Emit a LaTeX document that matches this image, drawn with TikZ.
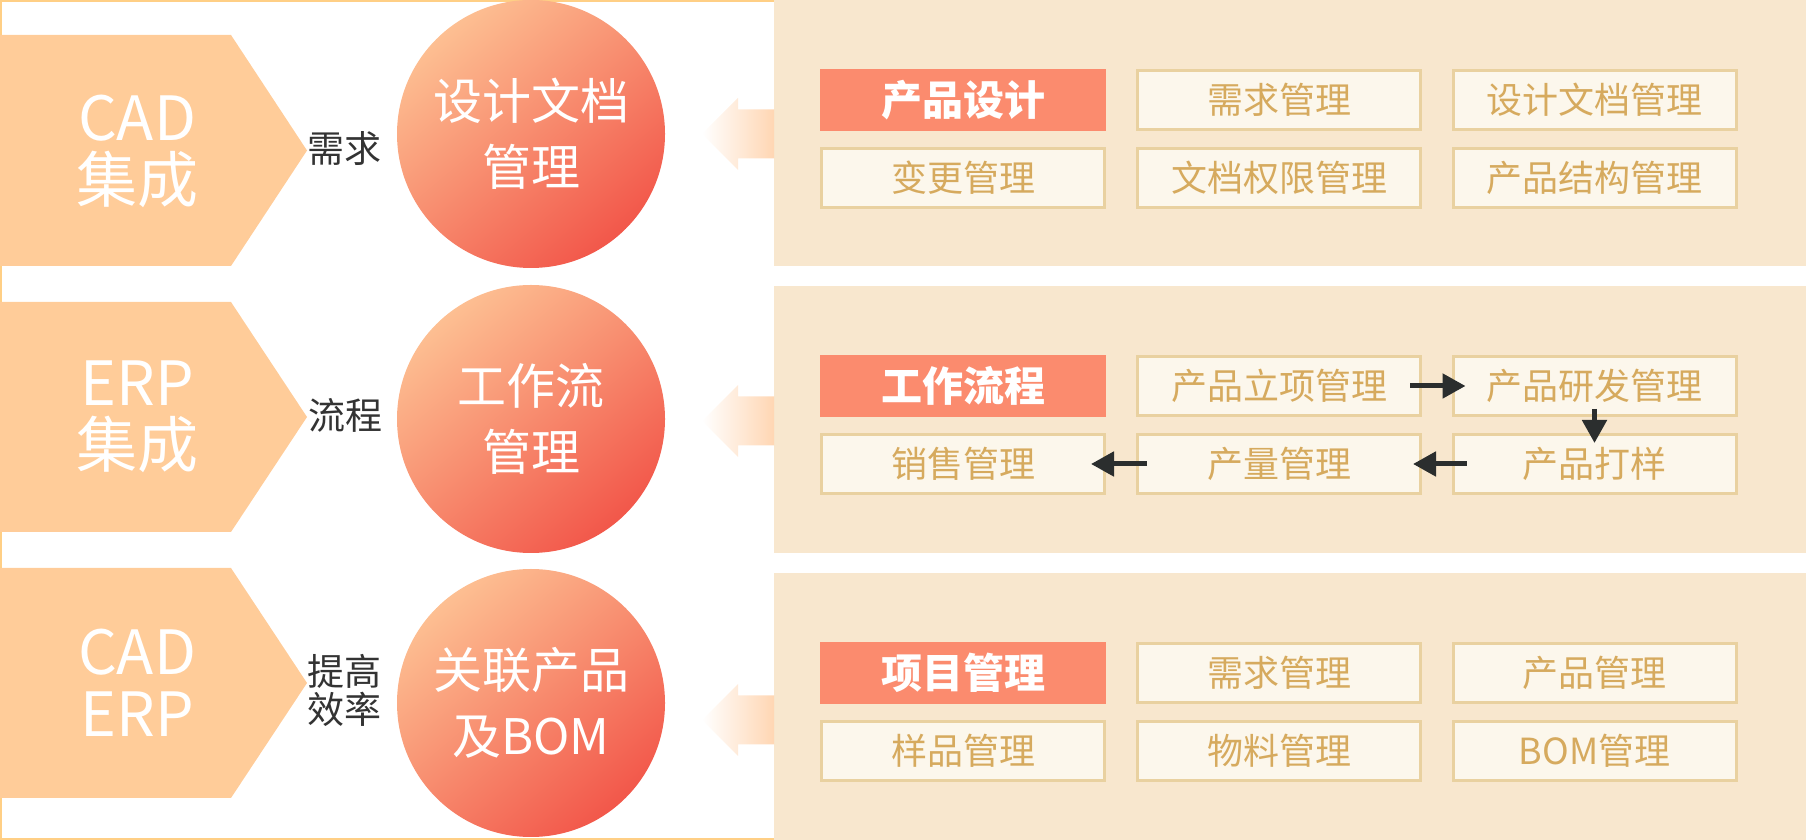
\documentclass[tikz,border=0pt]{standalone}
\usepackage{fontspec}
\setmainfont{Noto Sans CJK SC}
\usetikzlibrary{arrows.meta}

\definecolor{peach}{HTML}{FFCC99}
\definecolor{panel}{HTML}{F8E7CE}
\definecolor{boxfill}{HTML}{FCF7EC}
\definecolor{boxline}{HTML}{E9D1A0}
\definecolor{boxtext}{HTML}{D6AA5E}
\definecolor{salmon}{HTML}{FB8B6E}
\definecolor{ballhi}{HTML}{FDBF92}
\definecolor{balllo}{HTML}{F2574A}
\definecolor{arrowhi}{HTML}{FFD6B3}
\definecolor{framecol}{HTML}{FFCF85}
\definecolor{darktext}{HTML}{333333}
\definecolor{flowcol}{HTML}{2B2E2E}

\begin{document}
\begin{tikzpicture}[x=1pt, y=1pt,
  penttext/.style={text=white, align=center, font=\fontsize{61}{62}\selectfont},
  ball/.style={circle, minimum size=268pt, inner sep=0pt, top color=ballhi, bottom color=balllo, shading angle=40, text=white, align=center, font=\fontsize{49}{66}\selectfont},
  tag/.style={text=darktext, align=center, font=\fontsize{37}{38}\selectfont},
  item/.style={draw=boxline, line width=3pt, fill=boxfill, minimum width=283pt, minimum height=59pt, inner sep=0pt, text=boxtext, font=\fontsize{36}{40}\selectfont},
  hot/.style={fill=salmon, minimum width=286pt, minimum height=62pt, inner sep=0pt, text=white, font=\bfseries\fontsize{41}{44}\selectfont},
  flow/.style={line width=5pt, draw=flowcol, -{Triangle[length=23pt, width=24pt]}}
]
\useasboundingbox (0,0) rectangle (1806,840);

% FRAME AND PANELS
\draw [framecol, line width=2pt] (774,839) -- (1,839) -- (1,1) -- (774,1);
\fill [panel] (774,574) rectangle (1806,840);
\fill [panel] (774,287) rectangle (1806,554);
\fill [panel] (774,0) rectangle (1806,267);

% PENTAGONS
\fill [peach] (0,805) -- (231,805) -- (307,689.5) -- (231,574) -- (0,574) -- cycle;
\fill [peach] (0,538) -- (231,538) -- (307,423) -- (231,308) -- (0,308) -- cycle;
\fill [peach] (0,272) -- (231,272) -- (307,157) -- (231,42) -- (0,42) -- cycle;
\node [penttext] (cad1) at (137,689) {CAD\\集成};
\node [penttext] (erp1) at (137,423) {ERP\\集成};
\node [penttext] (cad2) at (137,157) {CAD\\ERP};

% LABELS
\node [tag] (need) at (344,691) {需求};
\node [tag] (proc) at (345,425) {流程};
\node [tag] (effi) at (344,150) {提高\\效率};

% CIRCLES
\node [ball] (docs) at (531,706) {设计文档\\管理};
\node [ball] (work) at (531,421) {工作流\\管理};
\node [ball] (bom) at (531,137) {关联产品\\及BOM};

% BIG ARROWS
\shade [left color=white, right color=arrowhi] (702,706) -- (738,742) -- (738,730.5) -- (774,730.5) -- (774,681.5) -- (738,681.5) -- (738,670) -- cycle;
\shade [left color=white, right color=arrowhi] (702,419) -- (738,455) -- (738,443.5) -- (774,443.5) -- (774,394.5) -- (738,394.5) -- (738,383) -- cycle;
\shade [left color=white, right color=arrowhi] (702,120) -- (738,156) -- (738,144.5) -- (774,144.5) -- (774,95.5) -- (738,95.5) -- (738,84) -- cycle;

% DESIGN BOXES
\node [hot] (d1) at (963,740) {产品设计};
\node [item] (d2) at (1279,740) {需求管理};
\node [item] (d3) at (1594.5,740) {设计文档管理};
\node [item] (d4) at (963,662) {变更管理};
\node [item] (d5) at (1279,662) {文档权限管理};
\node [item] (d6) at (1594.5,662) {产品结构管理};

% WORKFLOW BOXES
\node [hot] (w1) at (963,454) {工作流程};
\node [item] (w2) at (1279,454) {产品立项管理};
\node [item] (w3) at (1594.5,454) {产品研发管理};
\node [item] (w4) at (963,376) {销售管理};
\node [item] (w5) at (1279,376) {产量管理};
\node [item] (w6) at (1594.5,376) {产品打样};

% PROJECT BOXES
\node [hot] (p1) at (963,167) {项目管理};
\node [item] (p2) at (1279,167) {需求管理};
\node [item] (p3) at (1594.5,167) {产品管理};
\node [item] (p4) at (963,89) {样品管理};
\node [item] (p5) at (1279,89) {物料管理};
\node [item] (p6) at (1594.5,89) {BOM管理};

% FLOW ARROWS
\draw [flow] ([xshift=-12pt]w2.east) -- ([xshift=14pt]w3.west);
\draw [flow] ([yshift=8pt]w3.south) -- ([yshift=-10pt]w6.north);
\draw [flow] ([xshift=15pt]w6.west) -- ([xshift=-9pt]w5.east);
\draw [flow] ([xshift=11pt]w5.west) -- ([xshift=-15pt]w4.east);

\end{tikzpicture}
\end{document}
